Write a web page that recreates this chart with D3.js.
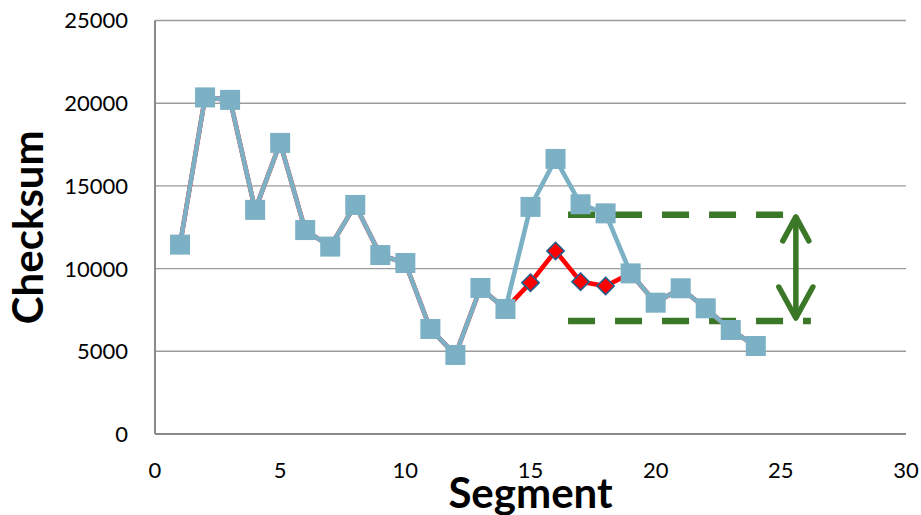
<!DOCTYPE html>
<html>
<head>
<meta charset="utf-8">
<script src="https://cdn.jsdelivr.net/npm/d3@7"></script>
<style>
  html, body { margin: 0; padding: 0; background: #fff; }
  svg { display: block; }
</style>
</head>
<body>
<svg id="chart" width="921" height="515"></svg>
<script>
// ---- data ----
const segments = [1,2,3,4,5,6,7,8,9,10,11,12,13,14,15,16,17,18,19,20,21,22,23,24];
const blueValues = [11450,20350,20200,13550,17600,12330,11330,13850,10820,10340,6350,4780,8830,7560,13730,16630,13890,13340,9710,7940,8810,7600,6290,5320];
const redValues  = [11450,20350,20200,13550,17600,12330,11330,13850,10820,10340,6350,4780,8830,7560,9150,11070,9210,8950,9710,7940,8810,7600,6290,5320];
const yTicks = [0,5000,10000,15000,20000,25000];
const xTicks = [0,5,10,15,20,25,30];
const xTitle = "Segment";
const yTitle = "Checksum";
// annotation (data units)
const rangeHigh = 13250, rangeLow = 6830;
const rangeStart = 16.5, upperEnd = 25.6, lowerEnd = 26.2, arrowAt = 25.6;

// ---- layout ----
const svg = d3.select("#chart");
const x = d3.scaleLinear().domain([0,30]).range([155,906]);
const y = d3.scaleLinear().domain([0,25000]).range([434,20.5]);

const blue = "#7BB0C5", red = "#FF0000", green = "#3A7726";
const font = "Lato, 'Open Sans', sans-serif";

// gridlines
svg.append("g").selectAll("line").data(yTicks.filter(d=>d>0)).join("line")
  .attr("x1", x(0)).attr("x2", x(30))
  .attr("y1", d=>y(d)).attr("y2", d=>y(d))
  .attr("stroke", "#9B9B9B").attr("stroke-width", 1.4);

// axes lines
svg.append("line").attr("x1", x(0)).attr("x2", x(0)).attr("y1", y(25000)).attr("y2", y(0))
  .attr("stroke", "#8A8A8A").attr("stroke-width", 2);
svg.append("line").attr("x1", x(0)).attr("x2", x(30)).attr("y1", y(0)).attr("y2", y(0))
  .attr("stroke", "#8A8A8A").attr("stroke-width", 2);

// tick labels
svg.append("g").selectAll("text").data(yTicks).join("text")
  .attr("x", 128).attr("y", d=>y(d)).attr("dy", "0.36em")
  .attr("text-anchor", "end").attr("font-family", font).attr("font-size", 22)
  .attr("fill", "#000").text(d=>d);
svg.append("g").selectAll("text").data(xTicks).join("text")
  .attr("x", d=>x(d)).attr("y", 478)
  .attr("text-anchor", "middle").attr("font-family", font).attr("font-size", 22)
  .attr("fill", "#000").text(d=>d);

// axis titles
svg.append("text").attr("x", (x(0)+x(30))/2).attr("y", 508)
  .attr("text-anchor", "middle").attr("font-family", font).attr("font-weight", "bold")
  .attr("font-size", 42).text(xTitle);
svg.append("text").attr("transform", `translate(43,${(y(0)+y(25000))/2}) rotate(-90)`)
  .attr("text-anchor", "middle").attr("font-family", font).attr("font-weight", "bold")
  .attr("font-size", 42).text(yTitle);

// annotation dashed lines
const dash = "27 20";
svg.append("line").attr("x1", x(rangeStart)).attr("x2", x(upperEnd))
  .attr("y1", y(rangeHigh)).attr("y2", y(rangeHigh))
  .attr("stroke", green).attr("stroke-width", 6.5).attr("stroke-dasharray", dash);
svg.append("line").attr("x1", x(rangeStart)).attr("x2", x(lowerEnd))
  .attr("y1", y(rangeLow)).attr("y2", y(rangeLow))
  .attr("stroke", green).attr("stroke-width", 6.5).attr("stroke-dasharray", dash);

// series data
const redData = segments.map((s,i)=>({s, v: redValues[i]}));
const blueData = segments.map((s,i)=>({s, v: blueValues[i]}));
const line = d3.line().x(d=>x(d.s)).y(d=>y(d.v));

// red series
svg.append("path").datum(redData).attr("d", line)
  .attr("fill", "none").attr("stroke", red).attr("stroke-width", 4.6).attr("stroke-linejoin", "round");
svg.append("g").selectAll("path").data(redData).join("path")
  .attr("d", d3.symbol(d3.symbolDiamond2, 190))
  .attr("transform", d=>`translate(${x(d.s)},${y(d.v)})`)
  .attr("fill", red).attr("stroke", "#1F5E8C").attr("stroke-width", 1.6);

// blue series
svg.append("path").datum(blueData).attr("d", line)
  .attr("fill", "none").attr("stroke", blue).attr("stroke-width", 4.6).attr("stroke-linejoin", "round");
svg.append("g").selectAll("rect").data(blueData).join("rect")
  .attr("x", d=>x(d.s)-10).attr("y", d=>y(d.v)-10)
  .attr("width", 20).attr("height", 20)
  .attr("fill", blue);

// arrow (double headed)
const ax = x(arrowAt), yt = y(rangeHigh)+1, yb = y(rangeLow)-2;
const arrowG = svg.append("g").attr("stroke", green).attr("stroke-width", 5.5)
  .attr("stroke-linecap", "round").attr("stroke-linejoin", "round").attr("fill", "none");
arrowG.append("line").attr("x1", ax).attr("x2", ax).attr("y1", yt+2).attr("y2", yb-2);
arrowG.append("polyline").attr("points", `${ax-13},${yt+25} ${ax},${yt+1} ${ax+13},${yt+25}`);
arrowG.append("polyline").attr("points", `${ax-17},${yb-32} ${ax},${yb-1} ${ax+17},${yb-32}`);
</script>
</body>
</html>
